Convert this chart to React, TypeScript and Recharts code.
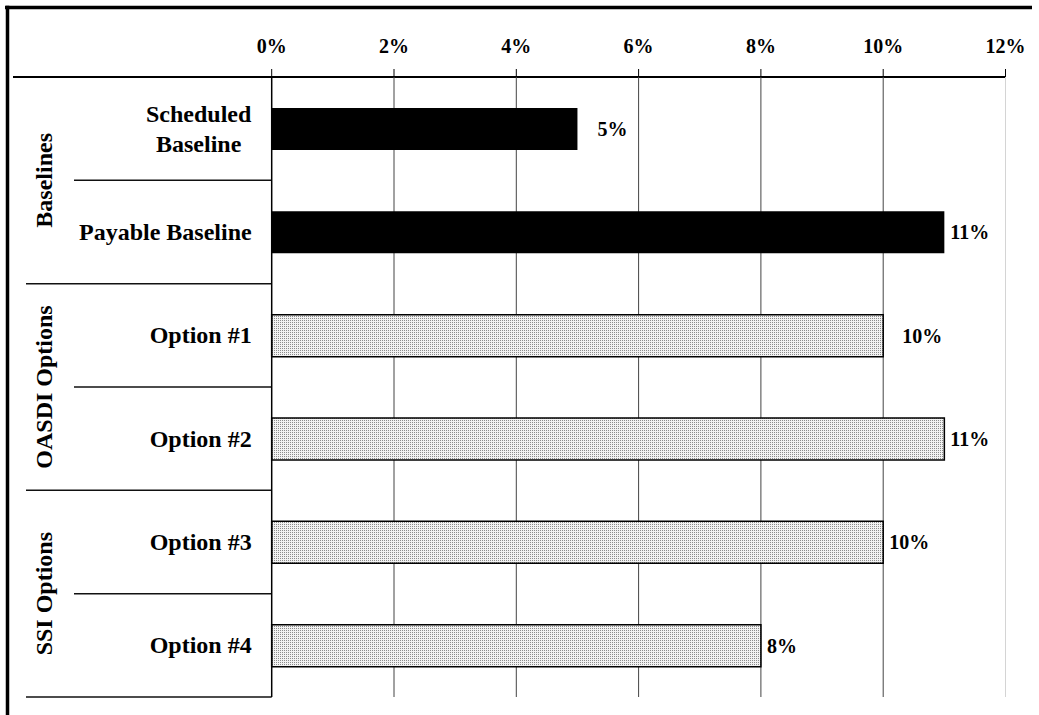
import React from 'react';
import { BarChart, Bar, XAxis, YAxis, CartesianGrid, Cell, LabelList } from 'recharts';

// ---- data ----
const categories = ['Scheduled\nBaseline', 'Payable Baseline', 'Option #1', 'Option #2', 'Option #3', 'Option #4'];
const values = [5, 11, 10, 11, 10, 8];
const groupOf = ['Baselines', 'Baselines', 'OASDI Options', 'OASDI Options', 'SSI Options', 'SSI Options'];
const xTicks = [0, 2, 4, 6, 8, 10, 12];

// ---- layout / style ----
const W = 1039;
const H = 715;
const PLOT_LEFT = 271.7;
const PLOT_RIGHT = 1005.5;
const PLOT_TOP = 77;
const PLOT_BOTTOM = 697;
const X_AXIS_H = 40;
const FONT = '"Liberation Serif", "Times New Roman", serif';
const labelGaps = [20, 6, 19, 6, 6, 6];

const data = categories.map((name, i) => ({ name, value: values[i], group: groupOf[i] }));

const groups: { name: string; start: number; count: number }[] = [];
groupOf.forEach((g, i) => {
  const last = groups[groups.length - 1];
  if (last && last.name === g) last.count += 1;
  else groups.push({ name: g, start: i, count: 1 });
});

const XTick = (props: any) => {
  const { x, payload } = props;
  return (
    <text x={x} y={52.5} textAnchor="middle" fontFamily={FONT} fontWeight="bold" fontSize={20} fill="#000">
      {`${payload.value}%`}
    </text>
  );
};

const YTick = (props: any) => {
  const { x, y, payload } = props;
  const lines = String(payload.value).split('\n');
  if (lines.length === 1) {
    return (
      <text x={x} y={y + 8} textAnchor="end" fontFamily={FONT} fontWeight="bold" fontSize={24} fill="#000">
        {lines[0]}
      </text>
    );
  }
  return (
    <text x={x - 53} y={y - 6.5} textAnchor="middle" fontFamily={FONT} fontWeight="bold" fontSize={24} fill="#000">
      {lines.map((l, i) => (
        <tspan key={i} x={x - 53} dy={i === 0 ? 0 : 29.5}>
          {l}
        </tspan>
      ))}
    </text>
  );
};

const ValueLabel = (props: any) => {
  const { x, y, width, height, value, index } = props;
  return (
    <text
      x={x + width + labelGaps[index]}
      y={y + height / 2 + 7}
      textAnchor="start"
      fontFamily={FONT}
      fontWeight="bold"
      fontSize={20}
      fill="#000"
    >
      {`${value}%`}
    </text>
  );
};

const Overlay = () => {
  const rowH = (PLOT_BOTTOM - PLOT_TOP) / categories.length;
  const seps: React.ReactNode[] = [];
  for (let i = 1; i <= categories.length; i++) {
    const yy = PLOT_TOP + i * rowH;
    const isGroupEnd = i === categories.length || groupOf[i] !== groupOf[i - 1];
    seps.push(
      <line key={`s${i}`} x1={isGroupEnd ? 26 : 74} x2={PLOT_LEFT} y1={yy} y2={yy} stroke="#111" strokeWidth={1.5} />
    );
  }
  return (
    <svg width={W} height={H} style={{ position: 'absolute', left: 0, top: 0 }}>
      <defs>
        <pattern id="dots" width="2" height="2" patternUnits="userSpaceOnUse">
          <rect width="2" height="2" fill="#f2f2f2" />
          <rect width="1" height="1" fill="#8c8c8c" />
        </pattern>
      </defs>
      <rect x={0} y={0} width={W} height={H} fill="#fff" />
      <line x1={5} x2={1032} y1={7.5} y2={7.5} stroke="#000" strokeWidth={3.5} />
      <line x1={7.5} x2={7.5} y1={5.8} y2={H} stroke="#000" strokeWidth={3.5} />
      <line x1={13} x2={PLOT_RIGHT + 0.5} y1={PLOT_TOP} y2={PLOT_TOP} stroke="#000" strokeWidth={2} />
      {seps}
      {groups.map((g) => {
        const cy = PLOT_TOP + (g.start + g.count / 2) * rowH;
        return (
          <text
            key={g.name}
            transform={`translate(52, ${cy}) rotate(-90)`}
            textAnchor="middle"
            fontFamily={FONT}
            fontWeight="bold"
            fontSize={24}
            fill="#000"
          >
            {g.name}
          </text>
        );
      })}
    </svg>
  );
};

export default function App() {
  return (
    <div style={{ position: 'relative', width: W, height: H, overflow: 'hidden' }}>
      <style>{`body{margin:0;}`}</style>
      <Overlay />
      <div style={{ position: 'absolute', left: 0, top: 0 }}>
        <BarChart
          width={W}
          height={H}
          data={data}
          layout="vertical"
          margin={{ top: PLOT_TOP - X_AXIS_H, right: W - PLOT_RIGHT, bottom: H - PLOT_BOTTOM, left: 0 }}
          barCategoryGap={0}
        >
          <CartesianGrid horizontal={false} verticalValues={[2, 4, 6, 8, 10]} stroke="#444" strokeWidth={1} />
          <CartesianGrid horizontal={false} verticalValues={[12]} stroke="#d4d4d4" strokeWidth={1} />
          <XAxis
            type="number"
            orientation="top"
            domain={[0, 12]}
            ticks={xTicks}
            interval={0}
            height={X_AXIS_H}
            axisLine={false}
            tickLine={{ stroke: '#000', strokeWidth: 1 }}
            tickSize={8}
            tick={<XTick />}
          />
          <YAxis
            type="category"
            dataKey="name"
            width={PLOT_LEFT}
            axisLine={{ stroke: '#000', strokeWidth: 1.5 }}
            tickLine={false}
            tickSize={0}
            tickMargin={20}
            interval={0}
            tick={<YTick />}
          />
          <Bar dataKey="value" barSize={42} isAnimationActive={false}>
            {data.map((d, i) => (
              <Cell
                key={i}
                fill={d.group === 'Baselines' ? '#000' : 'url(#dots)'}
                stroke="#000"
                strokeWidth={d.group === 'Baselines' ? 0 : 1.5}
              />
            ))}
            <LabelList dataKey="value" content={<ValueLabel />} />
          </Bar>
        </BarChart>
      </div>
    </div>
  );
}
